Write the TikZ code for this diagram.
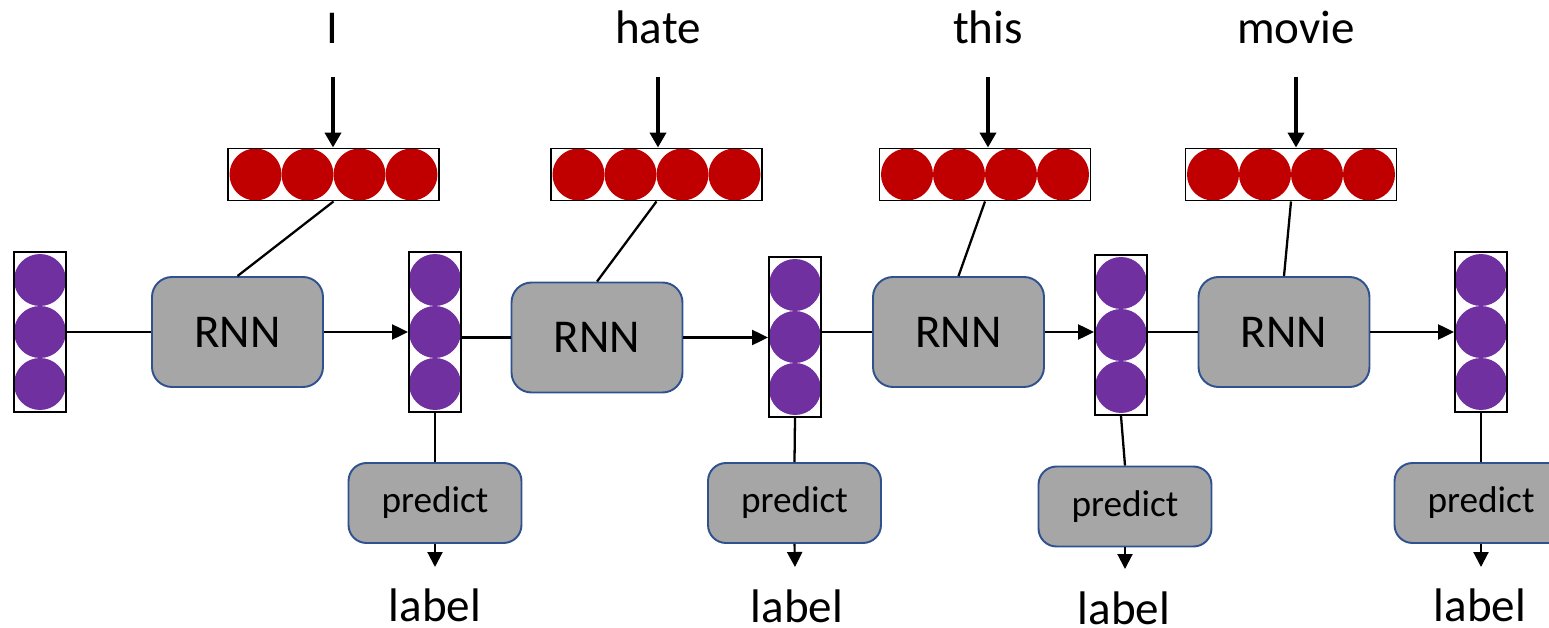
\documentclass[tikz,border=0pt]{standalone}
\usepackage{fontspec}
\setmainfont{Carlito}
\usetikzlibrary{arrows.meta}
\definecolor{vecpurple}{HTML}{7030A0}
\definecolor{vecred}{HTML}{C00000}
\definecolor{cellgray}{HTML}{A6A6A6}
\definecolor{celledge}{HTML}{2F528F}
\newcommand\bigtext{\fontsize{26.8}{31}\selectfont}
\newcommand\smalltext{\fontsize{21.2}{25}\selectfont}
\begin{document}
\begin{tikzpicture}[x=0.02cm, y=-0.02cm,
  cellbox/.style={draw=celledge, line width=1.1pt, fill=cellgray, rounded corners=0.4cm,
    minimum width=3.42cm, minimum height=2.2cm, inner sep=0pt, font=\bigtext},
  predbox/.style={draw=celledge, line width=1.1pt, fill=cellgray, rounded corners=0.36cm,
    minimum width=3.46cm, minimum height=1.6cm, inner sep=0pt, font=\smalltext},
  hidvec/.style={draw, line width=1.1pt, minimum width=1.04cm, minimum height=3.2cm, inner sep=0pt,
    path picture={\foreach \dy in {-52,0,52}
      \fill[vecpurple] ([shift={(0,\dy)}]path picture bounding box.center) circle[radius=0.52cm];}},
  embvec/.style={draw, line width=1.1pt, minimum width=4.22cm, minimum height=1.04cm, inner sep=0pt,
    path picture={\foreach \dx in {-78,-26,26,78}
      \fill[vecred] ([shift={(\dx,0)}]path picture bounding box.center) circle[radius=0.52cm];}},
  wordtext/.style={font=\bigtext, anchor=base, inner sep=0pt},
  link/.style={line width=1.3pt},
  flow/.style={line width=1.3pt, -{Triangle[length=0.32cm, width=0.3cm]}},
  inflow/.style={line width=2.2pt, -{Triangle[length=0.3cm, width=0.32cm]}},
  outflow/.style={line width=1.2pt, -{Triangle[length=0.3cm, width=0.3cm]}}]

\useasboundingbox (0,0) rectangle (1549,628);
\clip (0,0) rectangle (1549,628);

% hidden state vectors
\node[hidvec] (h0) at (40,332) {};
\node[hidvec] (h1) at (435,332) {};
\node[hidvec] (h2) at (795,337) {};
\node[hidvec] (h3) at (1121,335) {};
\node[hidvec] (h4) at (1481,332) {};

% recurrent cells
\node[cellbox] (r1) at (237.5,332) {RNN};
\node[cellbox] (r2) at (597,337.5) {RNN};
\node[cellbox] (r3) at (958.5,332) {RNN};
\node[cellbox] (r4) at (1284,332) {RNN};

% word embeddings
\node[embvec] (e1) at (333.5,174.5) {};
\node[embvec] (e2) at (656.5,174.5) {};
\node[embvec] (e3) at (985,174.5) {};
\node[embvec] (e4) at (1291,174.5) {};

% prediction heads
\node[predbox] (p1) at (435,503) {predict};
\node[predbox] (p2) at (794.5,503) {predict};
\node[predbox] (p3) at (1125,506.5) {predict};
\node[predbox] (p4) at (1481,503) {predict};

% input words
\node[wordtext] (w1) at (332,44) {I};
\node[wordtext] (w2) at (658,44) {hate};
\node[wordtext] (w3) at (988,44) {this};
\node[wordtext] (w4) at (1296,44) {movie};

% output labels
\node[wordtext] (l1) at (435,621) {label};
\node[wordtext] (l2) at (797,622) {label};
\node[wordtext] (l3) at (1124,624) {label};
\node[wordtext] (l4) at (1480,621) {label};

% arrow start / end points
\coordinate (s1) at (333,77);
\coordinate (s2) at (658,77);
\coordinate (s3) at (988,77);
\coordinate (s4) at (1296,77);
\coordinate (t1) at (435,567);
\coordinate (t2) at (795,567);
\coordinate (t3) at (1125,569);
\coordinate (t4) at (1481,567);

% words into embeddings
\draw[inflow] (s1) -- (s1 |- e1.north);
\draw[inflow] (s2) -- (s2 |- e2.north);
\draw[inflow] (s3) -- (s3 |- e3.north);
\draw[inflow] (s4) -- (s4 |- e4.north);

% embeddings into cells
\draw[link] (e1.south) -- (r1.north);
\draw[link] (e2.south) -- (r2.north);
\draw[link] (e3.south) -- (r3.north);
\draw[link] (e4.south) -- (r4.north);

% recurrence chain
\draw[link] (h0.east) -- (r1.west);
\draw[flow] (r1.east) -- (h1.west);
\draw[link] (h1.east |- r2.west) -- (r2.west);
\draw[flow] (r2.east) -- (h2.west |- r2.east);
\draw[link] (h2.east |- r3.west) -- (r3.west);
\draw[flow] (r3.east) -- (h3.west |- r3.east);
\draw[link] (h3.east |- r4.west) -- (r4.west);
\draw[flow] (r4.east) -- (h4.west);

% states into prediction heads
\draw[link] (h1.south) -- (p1.north);
\draw[link] (h2.south) -- (p2.north);
\draw[link] (h3.south) -- (p3.north);
\draw[link] (h4.south) -- (p4.north);

% prediction outputs
\draw[outflow] (p1.south) -- (t1);
\draw[outflow] (p2.south) -- (t2);
\draw[outflow] (p3.south) -- (t3);
\draw[outflow] (p4.south) -- (t4);
\end{tikzpicture}
\end{document}
